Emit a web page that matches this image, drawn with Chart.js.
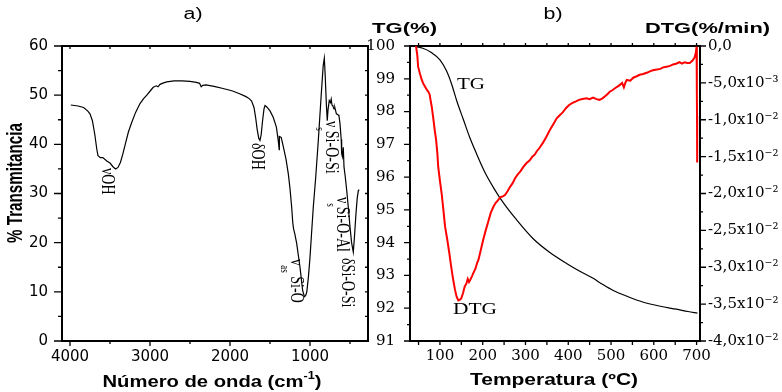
<!DOCTYPE html>
<html>
<head>
<meta charset="utf-8">
<script src="https://cdn.jsdelivr.net/npm/chart.js@4.4.1/dist/chart.umd.min.js"></script>
<style>
  html, body { margin: 0; padding: 0; background: #fff; }
  #wrap { position: relative; width: 782px; height: 392px; overflow: hidden; }
  #irChart { position: absolute; left: 0; top: 0; }
  #tgChart { position: absolute; left: 362px; top: 0; }
</style>
</head>
<body>
<div id="wrap">
  <canvas id="irChart" width="376" height="392"></canvas>
  <canvas id="tgChart" width="420" height="392"></canvas>
</div>
<script>
// ---- panel a: FTIR spectrum
const waveNumber = [3990, 3900, 3830, 3780, 3750, 3720, 3690, 3665, 3650, 3620, 3590, 3540, 3500, 3460, 3430, 3400,
  3370, 3340, 3300, 3270, 3230, 3180, 3125, 3080, 3040, 2990, 2960, 2920, 2900, 2875, 2830, 2790, 2700, 2600,
  2500, 2420, 2380, 2360, 2340, 2300, 2200, 2100, 2000, 1960, 1880, 1800, 1760, 1730, 1700, 1680, 1660, 1640,
  1625, 1610, 1595, 1575, 1562, 1540, 1500, 1460, 1420, 1395, 1385, 1383, 1360, 1333, 1300, 1271, 1250, 1229,
  1215, 1205, 1190, 1167, 1125, 1092, 1070, 1055, 1040, 1020, 1000, 980, 959, 930, 896, 860, 835, 821, 810,
  795, 784, 775, 759, 745, 735, 725, 715, 700, 690, 670, 650, 638, 625, 610, 604, 595, 584, 575, 560, 541,
  520, 500, 480, 459, 445, 425, 410, 396, 385];
const transmittance = [48.0, 47.8, 47.5, 46.8, 46.2, 44.8, 42.0, 39.0, 37.7, 37.3, 37.3, 36.6, 36.2, 35.4, 35.0, 35.3,
  36.3, 38.0, 40.6, 42.5, 44.4, 46.5, 48.3, 49.3, 50.0, 51.0, 51.6, 51.9, 51.7, 52.2, 52.5, 52.7, 52.9, 52.9,
  52.8, 52.6, 52.4, 51.7, 52.0, 52.1, 51.8, 51.4, 51.0, 50.8, 50.3, 49.7, 49.3, 48.8, 47.5, 45.5, 43.0, 41.2,
  40.8, 42.0, 44.5, 47.2, 47.9, 47.6, 46.8, 45.5, 43.5, 40.5, 38.9, 41.6, 41.4, 39.5, 37.0, 34.0, 31.0, 27.2,
  24.0, 22.8, 21.8, 19.9, 15.0, 10.3, 9.0, 9.2, 10.0, 13.0, 17.0, 22.0, 27.2, 33.0, 40.8, 50.0, 56.0, 57.5, 54.0,
  48.0, 44.8, 47.0, 48.9, 48.5, 49.2, 48.0, 47.8, 47.2, 47.5, 46.2, 46.0, 45.8, 44.2, 41.0, 38.1, 37.5, 39.4, 35.4, 33.5, 30.6,
  27.0, 23.2, 20.0, 18.1, 21.0, 26.0, 29.0, 30.6, 30.8];
const irXTicks = [4000, 3000, 2000, 1000];
const irYTicks = [0, 10, 20, 30, 40, 50, 60];

// ---- panel b: TG / DTG
const tgTemp = [35, 60, 80, 100, 115, 127, 140, 155, 170, 186, 205, 228, 248, 279, 318, 357, 397, 427, 457, 480,
  504, 540, 574, 615, 653, 680, 702];
const tgMass = [100, 99.93, 99.8, 99.58, 99.25, 98.85, 98.3, 97.75, 97.2, 96.7, 96.15, 95.62, 95.22, 94.7, 94.12,
  93.7, 93.36, 93.13, 92.92, 92.73, 92.55, 92.35, 92.19, 92.06, 91.97, 91.9, 91.85];
const dtgTemp = [44, 47, 49, 53, 57, 61, 66, 70, 73, 76, 78, 81, 84, 88, 91, 94, 96, 100, 104, 108, 112, 117, 122,
  126, 131, 135, 139, 143, 147, 150, 154, 158, 162, 165, 168, 171, 175, 178, 183, 187, 190, 195, 201, 207, 213,
  219, 225, 230, 236, 241, 247, 252, 258, 264, 270, 276, 282, 288, 295, 302, 310, 316, 322, 326, 333, 341, 348,
  357, 364, 373, 380, 387, 395, 402, 410, 418, 425, 433, 443, 450, 458, 466, 473, 480, 486, 492, 497, 503, 510,
  515, 520, 526, 530, 534, 537, 545, 552, 560, 567, 575, 585, 592, 598, 607, 615, 622, 630, 638, 645, 652, 660,
  666, 672, 678, 684, 690, 695, 698, 700, 700.6, 701, 701.4];
const dtgRate = [0, -0.0012, -0.0028, -0.0037, -0.0045, -0.0051, -0.0056, -0.0060, -0.0062, -0.0066, -0.0073,
  -0.0083, -0.0096, -0.0115, -0.0127, -0.0146, -0.0164, -0.0183, -0.0200, -0.0222, -0.0245, -0.0262, -0.0281,
  -0.0298, -0.0317, -0.0330, -0.0340, -0.0345, -0.0344, -0.0342, -0.0335, -0.0326, -0.0322, -0.0316, -0.0320,
  -0.0317, -0.0312, -0.0308, -0.0302, -0.0294, -0.0290, -0.0278, -0.0263, -0.0250, -0.0238, -0.0226, -0.0218,
  -0.0213, -0.0209, -0.0205, -0.0204, -0.0202, -0.0197, -0.0191, -0.0186, -0.0179, -0.0174, -0.0170, -0.0164,
  -0.0159, -0.0155, -0.0150, -0.0147, -0.0143, -0.0138, -0.0131, -0.0124, -0.0114, -0.0107, -0.0098, -0.0094,
  -0.0090, -0.0084, -0.0080, -0.0077, -0.0075, -0.0073, -0.0072, -0.0071, -0.0072, -0.0070, -0.0072, -0.0073,
  -0.0071, -0.0068, -0.0065, -0.0062, -0.0060, -0.0057, -0.0055, -0.0053, -0.0050, -0.0056, -0.0049, -0.0046,
  -0.0047, -0.0043, -0.0041, -0.0039, -0.0038, -0.0036, -0.0034, -0.0033, -0.0032, -0.0031, -0.0029, -0.0028,
  -0.0027, -0.0025, -0.0024, -0.0022, -0.0024, -0.0022, -0.0023, -0.0023, -0.0020, -0.0016, -0.0010, -0.0001,
  -0.0060, -0.0095, -0.0158];
const tempTicks = [100, 200, 300, 400, 500, 600, 700];
const tgTicks = [91, 92, 93, 94, 95, 96, 97, 98, 99, 100];
const dtgTicks = [0, -0.005, -0.01, -0.015, -0.02, -0.025, -0.03, -0.035, -0.04];
const dtgTickLabels = ['0,0', '-5,0x10\u207B\u00B3', '-1,0x10\u207B\u00B2', '-1,5x10\u207B\u00B2', '-2,0x10\u207B\u00B2',
  '-2,5x10\u207B\u00B2', '-3,0x10\u207B\u00B2', '-3,5x10\u207B\u00B2', '-4,0x10\u207B\u00B2'];

// small helpers for the decorations
function drawTicks(ctx, scale, values, len, edge) {
  const a = scale.chart.chartArea;
  ctx.beginPath();
  values.forEach(v => {
    const p = scale.getPixelForValue(v);
    if (edge === 'left') { ctx.moveTo(a.left, p); ctx.lineTo(a.left - len, p); }
    else if (edge === 'right') { ctx.moveTo(a.right, p); ctx.lineTo(a.right + len, p); }
    else if (edge === 'bottom') { ctx.moveTo(p, a.bottom); ctx.lineTo(p, a.bottom + len); }
    else { ctx.moveTo(p, a.top); ctx.lineTo(p, a.top - len); }
  });
  ctx.stroke();
}

function range(from, to, step) {
  const out = [];
  for (let v = from; v <= to + 1e-9; v += step) out.push(+v.toFixed(6));
  return out;
}

// text made of pieces [text, 'sub'|'sup'|''], squeezed/stretched to a width
function richText(ctx, parts, cx, cy, opts) {
  const size = opts.size;
  const font = s => (opts.bold ? 'bold ' : '') + s + 'px ' + opts.family;
  ctx.save();
  ctx.translate(cx, cy);
  if (opts.rotate) ctx.rotate(opts.rotate);
  let w = 0;
  parts.forEach(([t, k]) => { ctx.font = font(k ? Math.round(size * 0.62) : size); w += ctx.measureText(t).width; });
  const sx = opts.width ? opts.width / w : 1;
  ctx.scale(sx, opts.sy || 1);
  ctx.textBaseline = 'middle';
  ctx.textAlign = 'left';
  ctx.fillStyle = '#000';
  let x = opts.align === 'start' ? 0 : -w / 2;
  parts.forEach(([t, k]) => {
    ctx.font = font(k ? Math.round(size * 0.62) : size);
    const dy = k === 'sub' ? size * 0.6 : (k === 'sup' ? -size * 0.4 : 0);
    ctx.fillText(t, x, dy);
    x += ctx.measureText(t).width;
  });
  ctx.restore();
}

const serif = '"Liberation Serif", "Times New Roman", serif';
const sans = '"Liberation Sans", Arial, sans-serif';

const irDecor = {
  id: 'irDecor',
  beforeDatasetsDraw(chart) {
    const {ctx, chartArea: a, scales} = chart;
    ctx.save();
    ctx.strokeStyle = '#000';
    ctx.lineWidth = 2;
    ctx.strokeRect(a.left, a.top, a.right - a.left, a.bottom - a.top);
    ctx.lineWidth = 1.3;
    drawTicks(ctx, scales.y, irYTicks, 8, 'left');
    drawTicks(ctx, scales.y, range(5, 55, 10), 4, 'left');
    drawTicks(ctx, scales.y, range(5, 55, 5), -3, 'right');
    drawTicks(ctx, scales.x, irXTicks, 5, 'bottom');
    drawTicks(ctx, scales.x, range(500, 3500, 1000), 3, 'bottom');
    drawTicks(ctx, scales.x, range(500, 4000, 500), -3, 'top');
    ctx.restore();
  },
  afterDraw(chart) {
    const ctx = chart.ctx;
    richText(ctx, [['a)', '']], 193, 15, {size: 16, family: sans, width: 19});
    richText(ctx, [['Número de onda (cm', ''], ['-1', 'sup'], [')', '']], 212, 383,
      {size: 16, family: sans, bold: true, width: 219});
    richText(ctx, [['% Transmitancia', '']], 16, 183,
      {size: 16, family: sans, bold: true, width: 120, sy: 1.4, rotate: -Math.PI / 2});
    const ann = {size: 14, family: serif, sy: 1.4, rotate: Math.PI / 2, align: 'start'};
    richText(ctx, [['νOH', '']], 107, 168, ann);
    richText(ctx, [['δOH', '']], 257, 143, ann);
    richText(ctx, [['ν', ''], ['as', 'sub'], [' Si-O', '']], 296, 259, ann);
    richText(ctx, [['ν', ''], ['s', 'sub'], ['Si-O-Si', '']], 331, 121, ann);
    richText(ctx, [['ν', ''], ['s', 'sub'], ['Si-O-Al', '']], 342, 197, ann);
    richText(ctx, [['δSi-O-Si', '']], 347, 258, ann);
  }
};

const TG_LEFT = 362;
const tgDecor = {
  id: 'tgDecor',
  beforeDatasetsDraw(chart) {
    const {ctx, chartArea: a, scales} = chart;
    ctx.save();
    ctx.strokeStyle = '#000';
    ctx.lineWidth = 2;
    ctx.strokeRect(a.left, a.top, a.right - a.left, a.bottom - a.top);
    ctx.lineWidth = 1.3;
    drawTicks(ctx, scales.yTG, tgTicks, 6, 'left');
    drawTicks(ctx, scales.yTG, range(91.5, 99.5, 1), 3, 'left');
    drawTicks(ctx, scales.yDTG, dtgTicks, 6, 'right');
    drawTicks(ctx, scales.yDTG, range(-0.0375, -0.0025, 0.005), 3, 'right');
    drawTicks(ctx, scales.x, range(50, 700, 50), 4, 'bottom');
    drawTicks(ctx, scales.x, range(50, 700, 50), 3, 'top');
    ctx.restore();
  },
  afterDraw(chart) {
    const ctx = chart.ctx;
    const L = TG_LEFT;
    richText(ctx, [['b)', '']], 553 - L, 15, {size: 16, family: sans, width: 19});
    richText(ctx, [['TG(%)', '']], 372 - L, 29, {size: 15, family: sans, bold: true, width: 65, align: 'start'});
    richText(ctx, [['DTG(%/min)', '']], 645 - L, 29, {size: 15, family: sans, bold: true, width: 125, align: 'start'});
    richText(ctx, [['Temperatura (ºC)', '']], 554 - L, 381, {size: 16, family: sans, bold: true, width: 168});
    richText(ctx, [['TG', '']], 471 - L, 85, {size: 16, family: serif, width: 28});
    richText(ctx, [['DTG', '']], 475 - L, 310, {size: 16, family: serif, width: 44});
  }
};

new Chart(document.getElementById('irChart'), {
  type: 'line',
  data: {
    datasets: [{
      data: waveNumber.map((w, i) => ({x: w, y: transmittance[i]})),
      borderColor: '#000',
      borderWidth: 1.2,
      pointRadius: 0,
      tension: 0
    }]
  },
  options: {
    responsive: false,
    animation: false,
    layout: {padding: {top: 46, right: 8, left: 0, bottom: 0}},
    plugins: {legend: {display: false}, tooltip: {enabled: false}},
    scales: {
      x: {
        type: 'linear', reverse: true, min: 275, max: 4100,
        grid: {display: false, drawTicks: false}, border: {display: false},
        afterBuildTicks: s => { s.ticks = irXTicks.map(v => ({value: v})); },
        afterFit: s => { s.height = 51; },
        ticks: {font: {family: 'DejaVu Sans', size: 15}, color: '#000', padding: 7, maxRotation: 0, autoSkip: false,
          callback: v => String(v)}
      },
      y: {
        min: 0, max: 60,
        grid: {display: false, drawTicks: false}, border: {display: false},
        afterBuildTicks: s => { s.ticks = irYTicks.map(v => ({value: v})); },
        afterFit: s => { s.width = 62; },
        ticks: {font: {family: 'DejaVu Sans', size: 15}, color: '#000', padding: 14, callback: v => String(v)}
      }
    }
  },
  plugins: [irDecor]
});

new Chart(document.getElementById('tgChart'), {
  type: 'line',
  data: {
    datasets: [{
      label: 'DTG',
      yAxisID: 'yDTG',
      data: dtgTemp.map((t, i) => ({x: t, y: dtgRate[i]})),
      borderColor: '#ff0000',
      borderWidth: 2,
      pointRadius: 0,
      tension: 0
    }, {
      label: 'TG',
      yAxisID: 'yTG',
      data: tgTemp.map((t, i) => ({x: t, y: tgMass[i]})),
      borderColor: '#000',
      borderWidth: 1.2,
      pointRadius: 0,
      cubicInterpolationMode: 'monotone'
    }]
  },
  options: {
    responsive: false,
    animation: false,
    layout: {padding: {top: 46, right: 0, left: 0, bottom: 0}},
    plugins: {legend: {display: false}, tooltip: {enabled: false}},
    scales: {
      x: {
        type: 'linear', min: 30, max: 708,
        grid: {display: false, drawTicks: false}, border: {display: false},
        afterBuildTicks: s => { s.ticks = tempTicks.map(v => ({value: v})); },
        afterFit: s => { s.height = 51; },
        ticks: {font: {family: 'DejaVu Serif', size: 15}, color: '#000', padding: 6, maxRotation: 0, autoSkip: false,
          callback: v => String(v)}
      },
      yTG: {
        position: 'left', min: 91, max: 100,
        grid: {display: false, drawTicks: false}, border: {display: false},
        afterBuildTicks: s => { s.ticks = tgTicks.map(v => ({value: v})); },
        afterFit: s => { s.width = 48; },
        ticks: {font: {family: 'DejaVu Serif', size: 15}, color: '#000', padding: 15, callback: v => String(v)}
      },
      yDTG: {
        position: 'right', min: -0.04, max: 0,
        grid: {display: false, drawTicks: false}, border: {display: false},
        afterBuildTicks: s => { s.ticks = dtgTicks.map(v => ({value: v})); },
        afterFit: s => { s.width = 82; },
        ticks: {font: {family: 'DejaVu Serif', size: 15}, color: '#000', padding: 8,
          callback: (v, i) => dtgTickLabels[i]}
      }
    }
  },
  plugins: [tgDecor]
});
</script>
</body>
</html>
